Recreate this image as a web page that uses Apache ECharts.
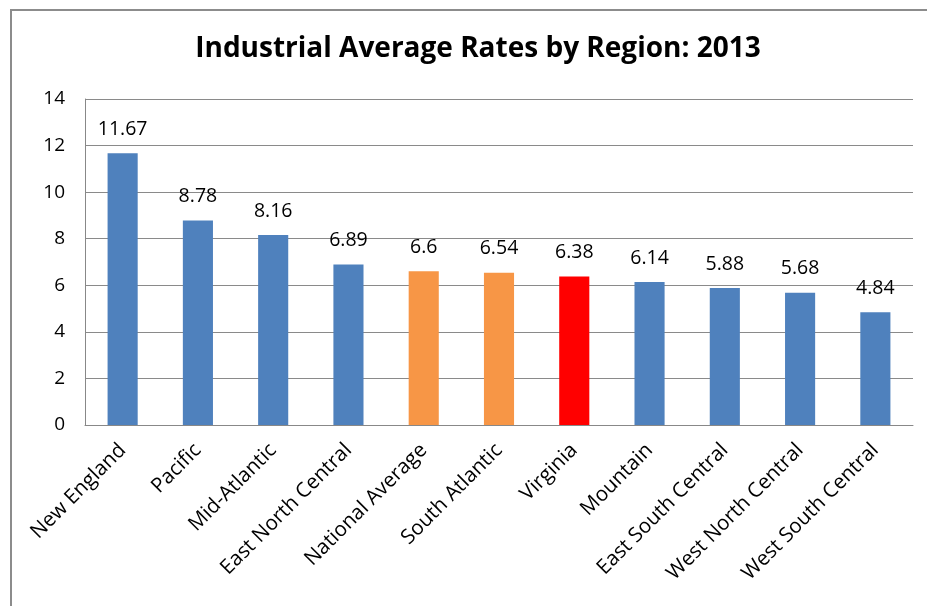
<!DOCTYPE html>
<html><head><meta charset="utf-8">
<script src="https://cdn.jsdelivr.net/npm/echarts@6/dist/echarts.min.js"></script>
<style>html,body{margin:0;padding:0;background:#fff}#c{width:927px;height:606px}</style>
</head><body><div id="c"></div>
<script>
const categories = ["New England","Pacific","Mid-Atlantic","East North Central","National Average","South Atlantic","Virginia","Mountain","East South Central","West North Central","West South Central"];
const values = [11.67,8.78,8.16,6.89,6.6,6.54,6.38,6.14,5.88,5.68,4.84];
const barColors = ["#4F81BD","#4F81BD","#4F81BD","#4F81BD","#F79646","#F79646","#FF0000","#4F81BD","#4F81BD","#4F81BD","#4F81BD"];
const yTicks = [0,2,4,6,8,10,12,14];
const font = "'Open Sans', 'Liberation Sans', sans-serif";
const chart = echarts.init(document.getElementById('c'));
chart.setOption({
  animation:false,
  backgroundColor:'#fff',
  graphic:[{type:'rect',shape:{x:11,y:10,width:930,height:610},style:{fill:'none',stroke:'#8c8c8c',lineWidth:2},z:-1}],
  title:{text:'Industrial Average Rates by Region: 2013',left:473,top:30,textAlign:'center',
    textStyle:{fontFamily:font,fontSize:28,fontWeight:'bold',color:'#000'}},
  grid:{left:85,right:14,top:99,bottom:181,containLabel:false},
  xAxis:{type:'category',data:categories,
    axisLine:{lineStyle:{color:'#888',width:1}},axisTick:{show:false},
    axisLabel:{rotate:45,interval:0,fontFamily:font,fontSize:20.5,color:'#000',margin:22}},
  yAxis:{type:'value',min:yTicks[0],max:yTicks[yTicks.length-1],interval:2,
    axisLine:{show:true,lineStyle:{color:'#888'}},axisTick:{show:false},
    splitLine:{lineStyle:{color:'#8a8a8a',width:1}},
    axisLabel:{fontFamily:font,fontSize:19,color:'#000',margin:20}},
  series:[{type:'bar',barWidth:'40%',
    data:values.map((v,i)=>({value:v,itemStyle:{color:barColors[i]}})),
    label:{show:true,position:'top',distance:14,fontFamily:font,fontSize:19.5,color:'#000'}}]
});
</script></body></html>
